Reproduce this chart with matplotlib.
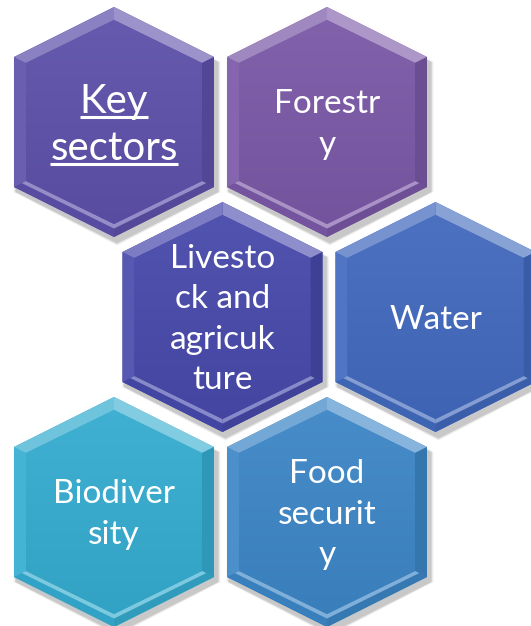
import matplotlib
matplotlib.use("Agg")
import matplotlib.pyplot as plt
import numpy as np
from matplotlib.patches import Polygon
import matplotlib.colors as mcolors

# ---- data ----
labels = ["Key\nsectors", "Forestr\ny", "Livesto\nck and\nagricuk\nture", "Water",
          "Biodiver\nsity", "Food\nsecurit\ny"]
grid_col = [0, 1, 0.5, 1.5, 0, 1]
grid_row = [0, 0, 1, 1, 2, 2]
colors = ["#5d50aa", "#7a58a6", "#4749ab", "#4169bd", "#35acd0", "#3c86c6"]
font_sizes = [29, 24, 24, 24, 24, 24]
underline = [True, False, False, False, False, False]

W, H = 531, 626
fig = plt.figure(figsize=(W / 100, H / 100), dpi=100)
ax = fig.add_axes([0, 0, 1, 1])
ax.set_xlim(0, W)
ax.set_ylim(H, 0)
ax.axis("off")

hw, hh, hs = 100, 115, 65
x0, dx = 114, 213
y0, dy = 122, 195


def hexverts(cx, cy, w, h, s):
    return np.array([[cx, cy - h], [cx + w, cy - s], [cx + w, cy + s],
                     [cx, cy + h], [cx - w, cy + s], [cx - w, cy - s]])


def mix(c, t, amt):
    c = np.array(mcolors.to_rgb(c))
    t = np.array(mcolors.to_rgb(t))
    return tuple(c + (t - c) * amt)


fig.canvas.draw()
r = fig.canvas.get_renderer()

for i, lab in enumerate(labels):
    cx = x0 + grid_col[i] * dx + (2 if grid_row[i] == 1 else 0)
    cy = y0 + grid_row[i] * dy
    base = colors[i]
    # shadow
    for k, a in [(9, 0.05), (7, 0.07), (5, 0.09), (3, 0.10)]:
        sv = hexverts(cx + 3, cy + 5, hw + k * 0.4, hh + k * 0.4, hs)
        ax.add_patch(Polygon(sv, closed=True, fc="#404040", ec="none", alpha=a, zorder=1))
    outer = hexverts(cx, cy, hw, hh, hs)
    inner = hexverts(cx, cy, hw - 12, hh - 13, hs - 6)
    ax.add_patch(Polygon(outer, closed=True, fc=base, ec="none", zorder=2))
    facet_cols = [mix(base, "white", 0.38), mix(base, "black", 0.12),
                  mix(base, "black", 0.10), mix(base, "black", 0.05),
                  mix(base, "white", 0.08), mix(base, "white", 0.28)]
    for j in range(6):
        q = np.array([outer[j], outer[(j + 1) % 6], inner[(j + 1) % 6], inner[j]])
        ax.add_patch(Polygon(q, closed=True, fc=facet_cols[j], ec="none", zorder=3))
    for j in (2, 3):
        a1, a2 = inner[j], inner[(j + 1) % 6]
        b1 = outer[j] * 0.35 + inner[j] * 0.65
        b2 = outer[(j + 1) % 6] * 0.35 + inner[(j + 1) % 6] * 0.65
        ax.add_patch(Polygon(np.array([a1, a2, b2, b1]), closed=True,
                             fc=mix(base, "white", 0.35), ec="none", zorder=3))
    face = Polygon(inner, closed=True, fc="none", ec="none", zorder=4)
    ax.add_patch(face)
    grad = np.linspace(0, 1, 100)[:, None]
    c1 = np.array(mix(base, "white", 0.06))
    c2 = np.array(mix(base, "black", 0.06))
    img = c1[None, None, :] * (1 - grad[:, :, None]) + c2[None, None, :] * grad[:, :, None]
    im = ax.imshow(img, extent=(cx - hw, cx + hw, cy + hh, cy - hh), aspect="auto",
                   zorder=4, interpolation="bilinear")
    im.set_clip_path(face)

    # text, line by line
    fs_px = font_sizes[i] * 100 / 72
    pitch = (1.17 if font_sizes[i] > 26 else 1.215) * fs_px
    lines = lab.split("\n")
    n = len(lines)
    for k, ln in enumerate(lines):
        by = cy + (k - (n - 1) / 2) * pitch + 0.35 * fs_px
        t = ax.text(cx, by, ln, ha="center", va="baseline", color="white",
                    fontsize=font_sizes[i], family="Lato", zorder=6)
        if underline[i]:
            wb = t.get_window_extent(renderer=r)
            wpx = wb.width
            ax.plot([cx - wpx / 2, cx + wpx / 2], [by + 4, by + 4], color="white",
                    lw=2.2, zorder=6, solid_capstyle="butt")

fig.savefig("out.png", dpi=100)
